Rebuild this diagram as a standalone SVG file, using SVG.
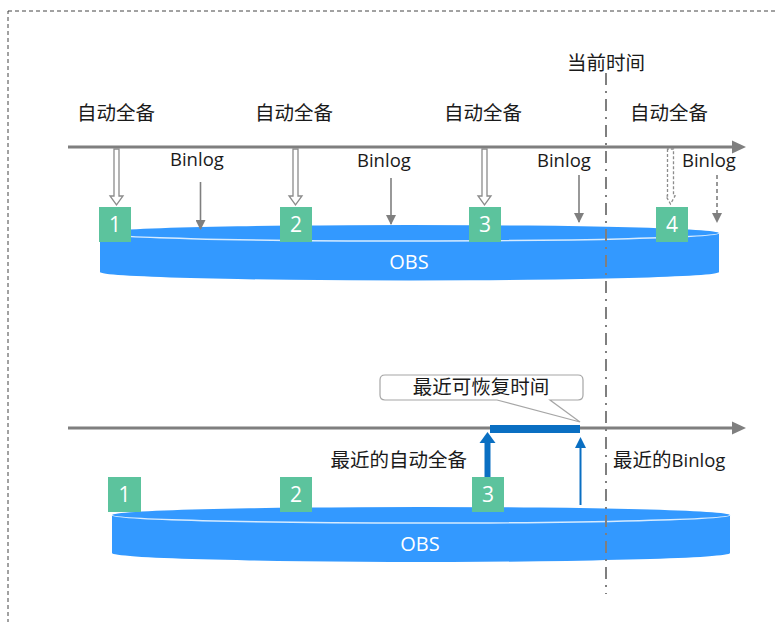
<svg xmlns="http://www.w3.org/2000/svg" width="777" height="622" viewBox="0 0 777 622">
<style>
.cjk{font-family:"Noto Sans CJK SC","Open Sans",sans-serif;font-size:19.5px;fill:#1a1a1a}
.lat{font-family:"Open Sans","Noto Sans CJK SC",sans-serif;font-size:18.5px;fill:#1a1a1a}
.num{font-family:"Open Sans",sans-serif;font-size:21px;fill:#fff;text-anchor:middle}
.obs{font-family:"Open Sans",sans-serif;font-size:20px;fill:#fff;text-anchor:middle}
.cyl{fill:#3399FF}
.rim{fill:none;stroke:#d6ebff;stroke-width:1.5}
.box{fill:#5CC39D}
.axis{stroke:#7F7F7F;stroke-width:3;fill:none}
.hollow{fill:#fff;stroke:#8c8c8c;stroke-width:1.3}
.bin{stroke:#7F7F7F;stroke-width:1.6;fill:none}
.gh{fill:#7F7F7F}
</style>
<defs>
<marker id="ah" viewBox="0 0 10 10" refX="9" refY="5" markerWidth="10" markerHeight="10" markerUnits="userSpaceOnUse" orient="auto"><path d="M0,0 L10,5 L0,10 Z" fill="#7F7F7F"/></marker>
</defs>
<rect x="8" y="11" width="800" height="640" fill="none" stroke="#444" stroke-width="1" stroke-dasharray="4 3"/>

<g id="obs-top">
<path class="cyl" d="M100,233 L100,272 A309.5,8.5 0 0 0 719,272 L719,233 A309.5,8 0 0 0 100,233 Z"/>
<path class="rim" d="M100,233 A309.5,8 0 0 0 719,233"/>
<text class="obs" x="409" y="269">OBS</text>
</g>
<g id="obs-bottom">
<path class="cyl" d="M112,515 L112,553 A309,9 0 0 0 730,553 L730,515 A309,8 0 0 0 112,515 Z"/>
<path class="rim" d="M112,515 A309,8 0 0 0 730,515"/>
<text class="obs" x="420" y="551">OBS</text>
</g>

<g id="connectors">
<line class="axis" x1="68" y1="147" x2="734" y2="147"/>
<polygon class="gh" points="732,140.5 746,147 732,153.5"/>
<line class="axis" x1="68" y1="428" x2="734" y2="428"/>
<polygon class="gh" points="732,421.5 746,428 732,434.5"/>
<polygon class="hollow" points="114,149 114,196 110,196 116.5,205 123,196 119,196 119,149"/>
<polygon class="hollow" points="293,149 293,196 289,196 295.5,205 302,196 298,196 298,149"/>
<polygon class="hollow" points="482,149 482,196 478,196 484.5,205 491,196 487,196 487,149"/>
<polygon class="hollow" stroke-dasharray="3 2" points="667.5,149 667.5,196 666,196 670.5,204 675,196 673.5,196 673.5,149"/>
<line class="bin" x1="200.5" y1="182" x2="200.5" y2="229" marker-end="url(#ah)"/>
<line class="bin" x1="391" y1="178" x2="391" y2="224" marker-end="url(#ah)"/>
<line class="bin" x1="579" y1="175" x2="579" y2="222" marker-end="url(#ah)"/>
<line class="bin" x1="717" y1="175" x2="717" y2="222" stroke-dasharray="4 3" marker-end="url(#ah)"/>
<rect x="490" y="425" width="90" height="8" fill="#0A6FC2"/>
<line x1="487.5" y1="488" x2="487.5" y2="441" stroke="#0A6FC2" stroke-width="6"/>
<polygon points="479.5,443 495.5,443 487.5,432" fill="#0A6FC2"/>
<line x1="580.5" y1="505" x2="580.5" y2="446" stroke="#0A6FC2" stroke-width="2"/>
<polygon points="575,448 586,448 580.5,437" fill="#0A6FC2"/>
<line x1="606" y1="73" x2="606" y2="594" stroke="#7F7F7F" stroke-width="2" stroke-dasharray="12 6 2 6"/>
</g>

<g id="box1-top"><rect class="box" x="99" y="207" width="32" height="35"/><text class="num" x="115" y="232">1</text></g>
<g id="box2-top"><rect class="box" x="280" y="207" width="32" height="35"/><text class="num" x="296" y="232">2</text></g>
<g id="box3-top"><rect class="box" x="469" y="207" width="32" height="35"/><text class="num" x="485" y="232">3</text></g>
<g id="box4-top"><rect class="box" x="656" y="207" width="32" height="35"/><text class="num" x="672" y="232">4</text></g>
<g id="box1-bottom"><rect class="box" x="108" y="477" width="33" height="35"/><text class="num" x="124.5" y="502">1</text></g>
<g id="box2-bottom"><rect class="box" x="280" y="477" width="32" height="35"/><text class="num" x="296" y="502">2</text></g>
<g id="box3-bottom"><rect class="box" x="472" y="477" width="32" height="35"/><text class="num" x="488" y="502">3</text></g>

<g id="labels">
<text class="cjk" x="606" y="70" text-anchor="middle">当前时间</text>
<text class="cjk" x="116" y="120" text-anchor="middle">自动全备</text>
<text class="cjk" x="294" y="120" text-anchor="middle">自动全备</text>
<text class="cjk" x="483" y="120" text-anchor="middle">自动全备</text>
<text class="cjk" x="669" y="120" text-anchor="middle">自动全备</text>
<text class="lat" x="170" y="166">Binlog</text>
<text class="lat" x="357" y="167">Binlog</text>
<text class="lat" x="537" y="167">Binlog</text>
<text class="lat" x="682" y="167">Binlog</text>
<text class="cjk" x="467" y="467" text-anchor="end">最近的自动全备</text>
<text class="cjk" x="613" y="467">最近的<tspan class="lat">Binlog</tspan></text>
</g>

<g id="callout">
<path d="M385,375 H578 Q583,375 583,380 V395 Q583,400 578,400 H550 L580,422 L497,400 H385 Q380,400 380,395 V380 Q380,375 385,375 Z" fill="#fff" stroke="#a6a6a6" stroke-width="1.2"/>
<text class="cjk" x="481" y="394" text-anchor="middle">最近可恢复时间</text>
</g>
</svg>
